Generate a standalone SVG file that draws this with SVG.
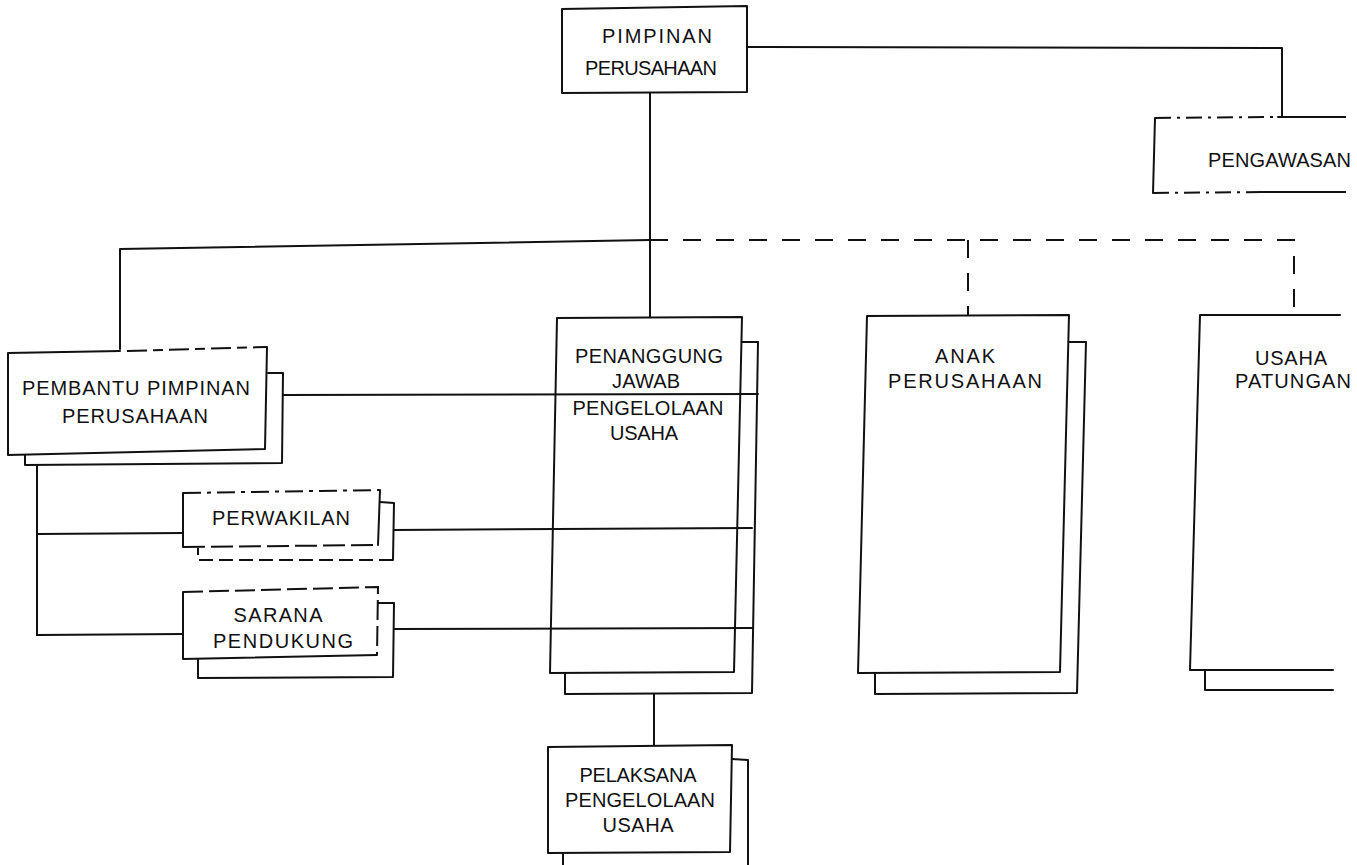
<svg xmlns="http://www.w3.org/2000/svg" width="1357" height="865" viewBox="0 0 1357 865">
<style>
.ln{fill:none;stroke:#111;stroke-width:2;stroke-linejoin:round;stroke-linecap:round}
.dsh{fill:none;stroke:#111;stroke-width:2;stroke-dasharray:18 15}
.dd{fill:none;stroke:#111;stroke-width:2;stroke-dasharray:16 6 3 6}
.bx{fill:#fff;stroke:#111;stroke-width:2;stroke-linejoin:round}
.fill{fill:#fff;stroke:none}
text{font-family:"Liberation Sans",Arial,Helvetica,sans-serif;font-size:20px;fill:#111;text-anchor:middle}
.st{text-anchor:start}
</style>
<defs>
<clipPath id="edge"><rect x="0" y="0" width="1346" height="865"/></clipPath>
</defs>
<rect width="1357" height="865" fill="#fff"/>

<g id="connectors">
<path class="ln" d="M747,47 L1282,48 L1282,117"/>
<path class="ln" d="M650,93 L650,318"/>
<path class="ln" d="M650,240 L120,249 L120,349"/>
<path class="dsh" d="M650,240 L1294,240 L1294,315"/>
<path class="dsh" d="M968,240 L968,315"/>
<path class="ln" d="M37,465 L37,635"/>
<path class="ln" d="M37,534 L183,533"/>
<path class="ln" d="M37,635 L183,634"/>
<path class="ln" d="M654,694 L654,745"/>
</g>

<g id="pimpinan">
<path class="bx" d="M562,9 L747,6 L747,92 L562,93 Z"/>
<text x="657" y="43" textLength="110" lengthAdjust="spacing">PIMPINAN</text>
<text x="651" y="75" textLength="132" lengthAdjust="spacing">PERUSAHAAN</text>
</g>

<g id="pengawasan">
<g clip-path="url(#edge)">
<path class="fill" d="M1155,118 L1357,117 L1357,192 L1153,193 Z"/>
<path class="dd" d="M1155,118 L1278,117"/>
<path class="ln" d="M1278,117 L1357,117"/>
<path class="ln" d="M1155,118 L1153,193"/>
<path class="dd" d="M1153,193 L1262,192"/>
<path class="ln" d="M1262,192 L1357,192"/>
</g>
<text class="st" x="1208" y="167" textLength="143" lengthAdjust="spacing">PENGAWASAN</text>
</g>

<g id="pembantu">
<path class="ln" d="M268,373 L283,373 L282,463 L25,465 L25,455"/>
<path class="fill" d="M8,353 L267,347 L265,449 L8,455 Z"/>
<path class="ln" d="M120,351 L8,353 L8,455 L265,449 L267,347"/>
<path class="dsh" style="stroke-dasharray:20 6 10 6" d="M127,351 L267,347"/>
<text x="136" y="395" textLength="228" lengthAdjust="spacing">PEMBANTU PIMPINAN</text>
<text x="135" y="423" textLength="146" lengthAdjust="spacing">PERUSAHAAN</text>
</g>

<g id="perwakilan">
<path class="ln" d="M380,502 L394,503 L393,560"/>
<path class="dsh" style="stroke-dasharray:14 6" d="M393,560 L198,560 L198,548"/>
<path class="fill" d="M183,493 L380,490 L378,545 L183,547 Z"/>
<path class="ln" d="M183,493 L183,547 M380,490 L378,545"/>
<path class="dsh" style="stroke-dasharray:18 6 4 6" d="M183,493 L380,490"/>
<path class="dsh" style="stroke-dasharray:22 6" d="M183,547 L378,545"/>
<text x="281" y="525" textLength="138" lengthAdjust="spacing">PERWAKILAN</text>
</g>

<g id="sarana">
<path class="ln" d="M378,603 L394,603 L393,677 L198,678 L198,659"/>
<path class="fill" d="M183,592 L378,587 L377,655 L183,659 Z"/>
<path class="ln" d="M183,592 L183,659 L377,655"/>
<path class="dsh" style="stroke-dasharray:20 6" d="M183,592 L378,587 L377,655"/>
<text x="278" y="622" textLength="89" lengthAdjust="spacing">SARANA</text>
<text x="283" y="648" textLength="140" lengthAdjust="spacing">PENDUKUNG</text>
</g>

<g id="penanggung">
<path class="ln" d="M742,342 L758,342 L752,693 L565,694 L565,673"/>
<path class="bx" d="M557,318 L742,317 L734,672 L550,673 Z"/>
<text x="649" y="363" textLength="148" lengthAdjust="spacing">PENANGGUNG</text>
<text x="646" y="388" textLength="68" lengthAdjust="spacing">JAWAB</text>
<text x="648" y="415" textLength="151" lengthAdjust="spacing">PENGELOLAAN</text>
<text x="644" y="440" textLength="68" lengthAdjust="spacing">USAHA</text>
</g>

<g id="anak">
<path class="ln" d="M1069,342 L1086,342 L1077,693 L875,694 L875,673"/>
<path class="bx" d="M867,316 L1069,315 L1060,672 L858,673 Z"/>
<text x="965" y="363" textLength="60" lengthAdjust="spacing">ANAK</text>
<text x="965" y="388" textLength="154" lengthAdjust="spacing">PERUSAHAAN</text>
</g>

<g id="patungan">
<g clip-path="url(#edge)">
<path class="fill" d="M1200,315 L1357,315 L1357,670 L1190,670 Z"/>
<path class="ln" d="M1340,315 L1200,315 L1190,670 L1333,670"/>
<path class="ln" d="M1205,670 L1205,690 L1333,690"/>
</g>
<text x="1291" y="365" textLength="72" lengthAdjust="spacing">USAHA</text>
<text class="st" x="1235" y="388" textLength="116" lengthAdjust="spacing">PATUNGAN</text>
</g>

<g id="pelaksana">
<path class="ln" d="M732,759 L748,760 L748,866 M563,853 L563,866"/>
<path class="bx" d="M548,747 L732,745 L730,852 L548,853 Z"/>
<text x="638" y="782" textLength="117" lengthAdjust="spacing">PELAKSANA</text>
<text x="640" y="807" textLength="150" lengthAdjust="spacing">PENGELOLAAN</text>
<text x="638" y="832" textLength="71" lengthAdjust="spacing">USAHA</text>
</g>

<g id="cross-connectors">
<path class="ln" d="M283,395 L758,394"/>
<path class="ln" d="M394,530 L752,528"/>
<path class="ln" d="M394,629 L752,628"/>
</g>
</svg>
